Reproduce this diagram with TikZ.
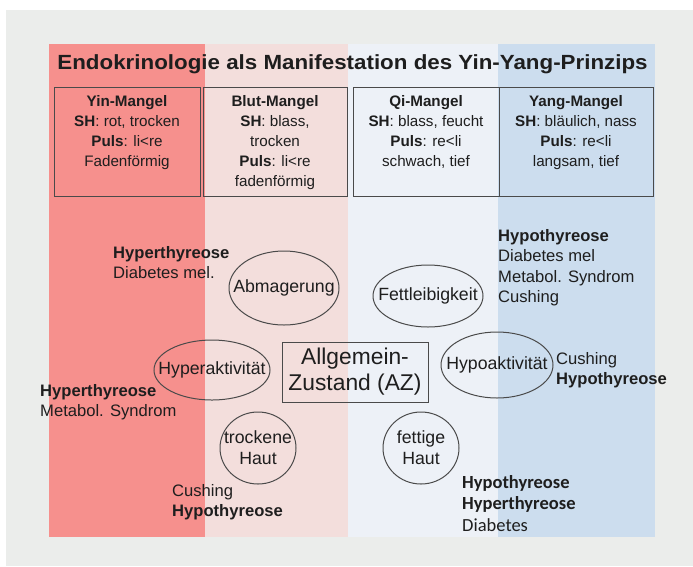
\documentclass[tikz,border=0pt]{standalone}
\usepackage{fontspec}
\setmainfont{Liberation Sans}
\newfontfamily\calibri{Carlito}
\usetikzlibrary{positioning}
\definecolor{grund}{HTML}{EBEDEB}
\definecolor{yinrot}{HTML}{F6908D}
\definecolor{blutrosa}{HTML}{F3DEDC}
\definecolor{qihell}{HTML}{EDF1F7}
\definecolor{yangblau}{HTML}{CCDDEE}
\definecolor{schrift}{HTML}{1E1E1E}
\definecolor{rahmen}{HTML}{4A4A4A}
\tikzset{
  kasten/.style = {draw = rahmen, line width = 0.8pt, minimum height = 109pt, inner sep = 0pt},
  ktext/.style = {align = center, font = \fontsize{15.2}{20}\selectfont, text = schrift, inner sep = 0pt},
  symptom/.style = {align = center, font = \fontsize{17.7}{21}\selectfont, text = schrift, inner sep = 0pt},
  oval/.style = {draw = rahmen, line width = 1pt},
  befund/.style = {align = left, anchor = north west, font = \fontsize{16.6}{20.5}\selectfont, text = schrift, inner sep = 0pt}
}

\begin{document}
\begin{tikzpicture}[x = 1pt, y = -1pt]
\useasboundingbox (0,0) rectangle (693,566);
\fill[grund] (6,10) rectangle (693,566);
\fill[yinrot] (49,44) rectangle (205,537);
\fill[blutrosa] (205,44) rectangle (348,537);
\fill[qihell] (348,44) rectangle (498,537);
\fill[yangblau] (498,44) rectangle (655,537);

\node[font = \bfseries\fontsize{20.5}{24}\selectfont, text = schrift] (titel) at (352.5,64)
  {\scalebox{1.09}[1]{Endokrinologie als Manifestation des Yin-Yang-Prinzips}};

\node[kasten, minimum width = 146pt] (yin) at (127,141.5) {};
\node[kasten, minimum width = 144pt] (blut) at (275,141.5) {};
\node[kasten, minimum width = 146pt] (qi) at (426,141.5) {};
\node[kasten, minimum width = 154pt] (yang) at (576,141.5) {};
\node[ktext, below = 9pt of yin.north] (yintext)
  {\textbf{Yin-Mangel}\\\textbf{SH}: rot, trocken\\\textbf{Puls}: li<re\\Fadenförmig};
\node[ktext, below = 9pt of blut.north] (bluttext)
  {\textbf{Blut-Mangel}\\\textbf{SH}: blass,\\trocken\\\textbf{Puls}: li<re\\fadenförmig};
\node[ktext, below = 9pt of qi.north] (qitext)
  {\textbf{Qi-Mangel}\\\textbf{SH}: blass, feucht\\\textbf{Puls}: re<li\\schwach, tief};
\node[ktext, below = 9pt of yang.north] (yangtext)
  {\textbf{Yang-Mangel}\\\textbf{SH}: bläulich, nass\\\textbf{Puls}: re<li\\langsam, tief};

\node[draw = rahmen, line width = 0.8pt, minimum width = 146pt, minimum height = 60pt,
  align = center, font = \fontsize{22.8}{26}\selectfont, text = schrift] (az) at (355,372)
  {Allgemein-\\Zustand (AZ)};

\node[symptom] (abm) at (284,288) {Abmagerung};
\node[symptom] (fett) at (428,296) {Fettleibigkeit};
\node[symptom] (hyper) at (212,370) {Hyperaktivität};
\node[symptom] (hypo) at (497,365) {Hypoaktivität};
\node[symptom] (trocken) at (258,448) {trockene\\Haut};
\node[symptom] (fettig) at (421,448) {fettige\\Haut};
\draw[oval] (abm.center) ellipse [x radius = 55pt, y radius = 37pt];
\draw[oval] (fett.center) ellipse [x radius = 55pt, y radius = 31pt];
\draw[oval] (hyper.center) ellipse [x radius = 58pt, y radius = 30pt];
\draw[oval] (hypo.center) ellipse [x radius = 56pt, y radius = 33pt];
\draw[oval] (trocken.center) ellipse [x radius = 38pt, y radius = 36pt];
\draw[oval] (fettig.center) ellipse [x radius = 38pt, y radius = 36pt];

\node[befund] (b1) at (113,246) {\textbf{Hyperthyreose}\\Diabetes mel.};
\node[befund] (b2) at (498,229) {\textbf{Hypothyreose}\\Diabetes mel\\Metabol. Syndrom\\Cushing};
\node[befund] (b3) at (40,384) {\textbf{Hyperthyreose}\\Metabol. Syndrom};
\node[befund] (b4) at (556,352) {Cushing\\\textbf{Hypothyreose}};
\node[befund] (b5) at (172,484) {Cushing\\\textbf{Hypothyreose}};
\node[befund, font = \calibri\fontsize{18.5}{21.5}\selectfont] (b6) at (462,475)
  {\textbf{Hypothyreose}\\\textbf{Hyperthyreose}\\Diabetes};
\end{tikzpicture}
\end{document}
